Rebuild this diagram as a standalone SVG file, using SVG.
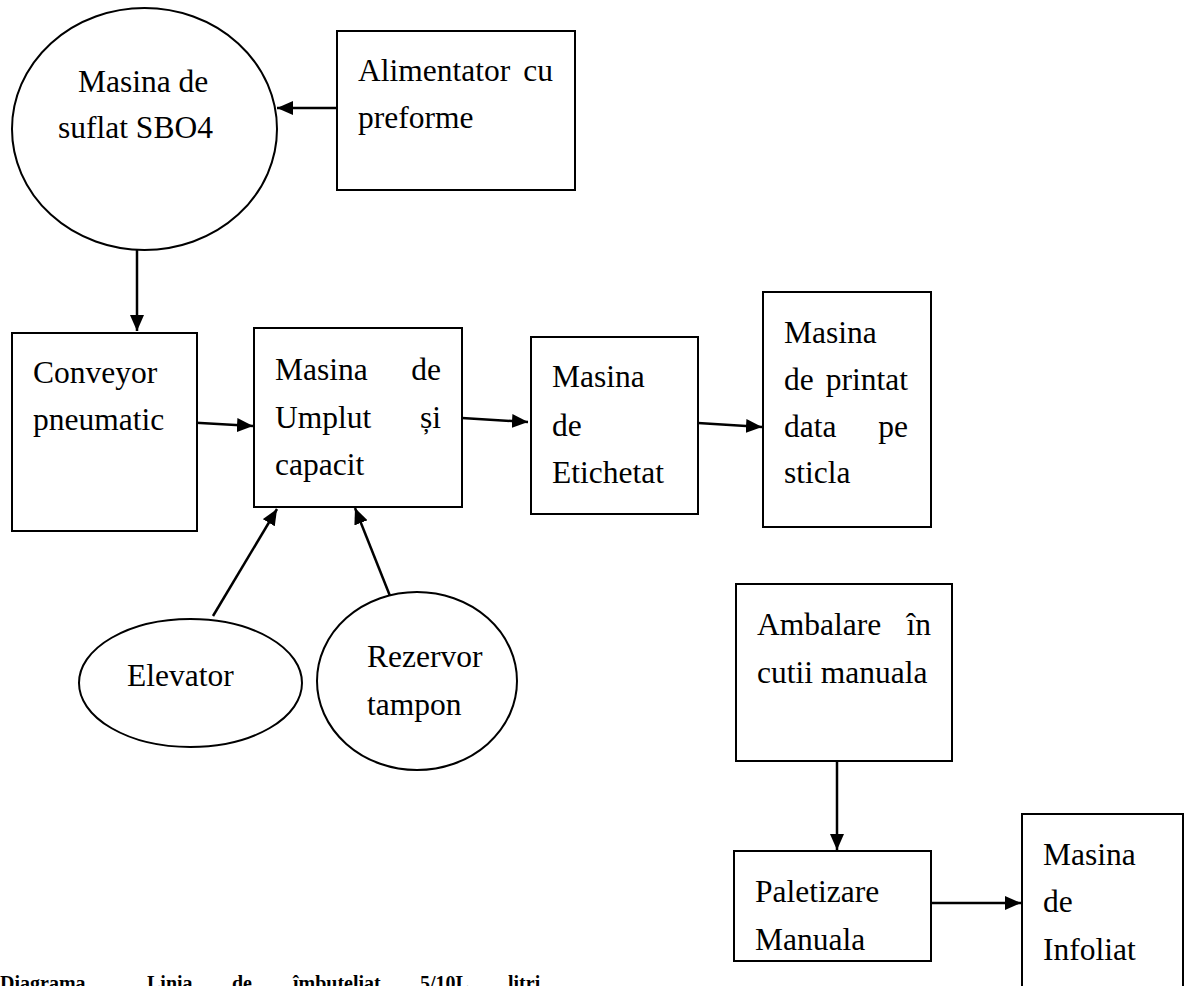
<svg xmlns="http://www.w3.org/2000/svg" width="1185" height="986" viewBox="0 0 1185 986">
  <defs>
    <style>
      .shape { fill: #ffffff; stroke: #000000; stroke-width: 2; }
      .conn { fill: none; stroke: #000000; stroke-width: 2.5; }
      .lbl { font-family: "Liberation Serif", "Times New Roman", serif; font-size: 31.5px; fill: #000000; }
      .cap { font-family: "Liberation Serif", "Times New Roman", serif; font-size: 20px; font-weight: bold; fill: #000000; }
    </style>
    <marker id="arrow" markerUnits="userSpaceOnUse" markerWidth="18" markerHeight="14" refX="16" refY="7" orient="auto">
      <path d="M0,0 L16,7 L0,14 z" fill="#000000"/>
    </marker>
  </defs>
  <rect width="1185" height="986" fill="#ffffff"/>

  <!-- connectors -->
  <g id="connectors">
    <line class="conn" x1="337" y1="108" x2="277" y2="108" marker-end="url(#arrow)"/>
    <line class="conn" x1="137" y1="250" x2="137" y2="331" marker-end="url(#arrow)"/>
    <line class="conn" x1="183" y1="422" x2="253" y2="426" marker-end="url(#arrow)"/>
    <line class="conn" x1="462" y1="418" x2="528" y2="422" marker-end="url(#arrow)"/>
    <line class="conn" x1="698" y1="423" x2="762" y2="427" marker-end="url(#arrow)"/>
    <line class="conn" x1="213" y1="616" x2="277" y2="509" marker-end="url(#arrow)"/>
    <line class="conn" x1="392" y1="601" x2="355" y2="508" marker-end="url(#arrow)"/>
    <line class="conn" x1="837" y1="761" x2="837" y2="850" marker-end="url(#arrow)"/>
    <line class="conn" x1="931" y1="903" x2="1021" y2="903" marker-end="url(#arrow)"/>
  </g>

  <!-- blow moulding machine -->
  <g id="node-suflat">
    <ellipse class="shape" cx="144.5" cy="129" rx="132.5" ry="121"/>
    <text class="lbl" x="78" y="92">Masina de</text>
    <text class="lbl" x="58" y="138">suflat SBO4</text>
  </g>

  <g id="node-alimentator">
    <rect class="shape" x="337" y="31" width="238" height="159"/>
    <text class="lbl" x="358" y="81">Alimentator</text>
    <text class="lbl" x="553" y="81" text-anchor="end">cu</text>
    <text class="lbl" x="358" y="128">preforme</text>
  </g>

  <g id="node-conveyor">
    <rect class="shape" x="12" y="333" width="185" height="198"/>
    <text class="lbl" x="33" y="383">Conveyor</text>
    <text class="lbl" x="33" y="430">pneumatic</text>
  </g>

  <g id="node-umplut">
    <rect class="shape" x="254" y="328" width="208" height="179"/>
    <text class="lbl" x="275" y="380">Masina</text>
    <text class="lbl" x="441" y="380" text-anchor="end">de</text>
    <text class="lbl" x="275" y="428">Umplut</text>
    <text class="lbl" x="441" y="428" text-anchor="end">și</text>
    <text class="lbl" x="275" y="475">capacit</text>
  </g>

  <g id="node-etichetat">
    <rect class="shape" x="531" y="337" width="167" height="177"/>
    <text class="lbl" x="552" y="387">Masina</text>
    <text class="lbl" x="552" y="436">de</text>
    <text class="lbl" x="552" y="483">Etichetat</text>
  </g>

  <g id="node-printat">
    <rect class="shape" x="763" y="292" width="168" height="235"/>
    <text class="lbl" x="784" y="343">Masina</text>
    <text class="lbl" x="784" y="390">de</text>
    <text class="lbl" x="908" y="390" text-anchor="end">printat</text>
    <text class="lbl" x="784" y="437">data</text>
    <text class="lbl" x="908" y="437" text-anchor="end">pe</text>
    <text class="lbl" x="784" y="483">sticla</text>
  </g>

  <g id="node-elevator">
    <ellipse class="shape" cx="190.5" cy="683" rx="111.5" ry="64"/>
    <text class="lbl" x="127" y="686">Elevator</text>
  </g>

  <g id="node-rezervor">
    <ellipse class="shape" cx="417" cy="681" rx="100" ry="89"/>
    <text class="lbl" x="367" y="667">Rezervor</text>
    <text class="lbl" x="367" y="715">tampon</text>
  </g>

  <g id="node-ambalare">
    <rect class="shape" x="736" y="584" width="216" height="177"/>
    <text class="lbl" x="757" y="635">Ambalare</text>
    <text class="lbl" x="931" y="635" text-anchor="end">în</text>
    <text class="lbl" x="757" y="683">cutii manuala</text>
  </g>

  <g id="node-paletizare">
    <rect class="shape" x="734" y="851" width="197" height="110"/>
    <text class="lbl" x="755" y="902">Paletizare</text>
    <text class="lbl" x="755" y="950">Manuala</text>
  </g>

  <g id="node-infoliat">
    <rect class="shape" x="1022" y="814" width="161" height="200"/>
    <text class="lbl" x="1043" y="865">Masina</text>
    <text class="lbl" x="1043" y="912">de</text>
    <text class="lbl" x="1043" y="960">Infoliat</text>
  </g>

  <!-- caption line, cut by the lower page edge -->
  <text class="cap" y="990"><tspan x="0">Diagrama</tspan><tspan x="147">Linia</tspan><tspan x="232">de</tspan><tspan x="293">îmbuteliat</tspan><tspan x="420">5/10L</tspan><tspan x="508">litri</tspan></text>
</svg>
